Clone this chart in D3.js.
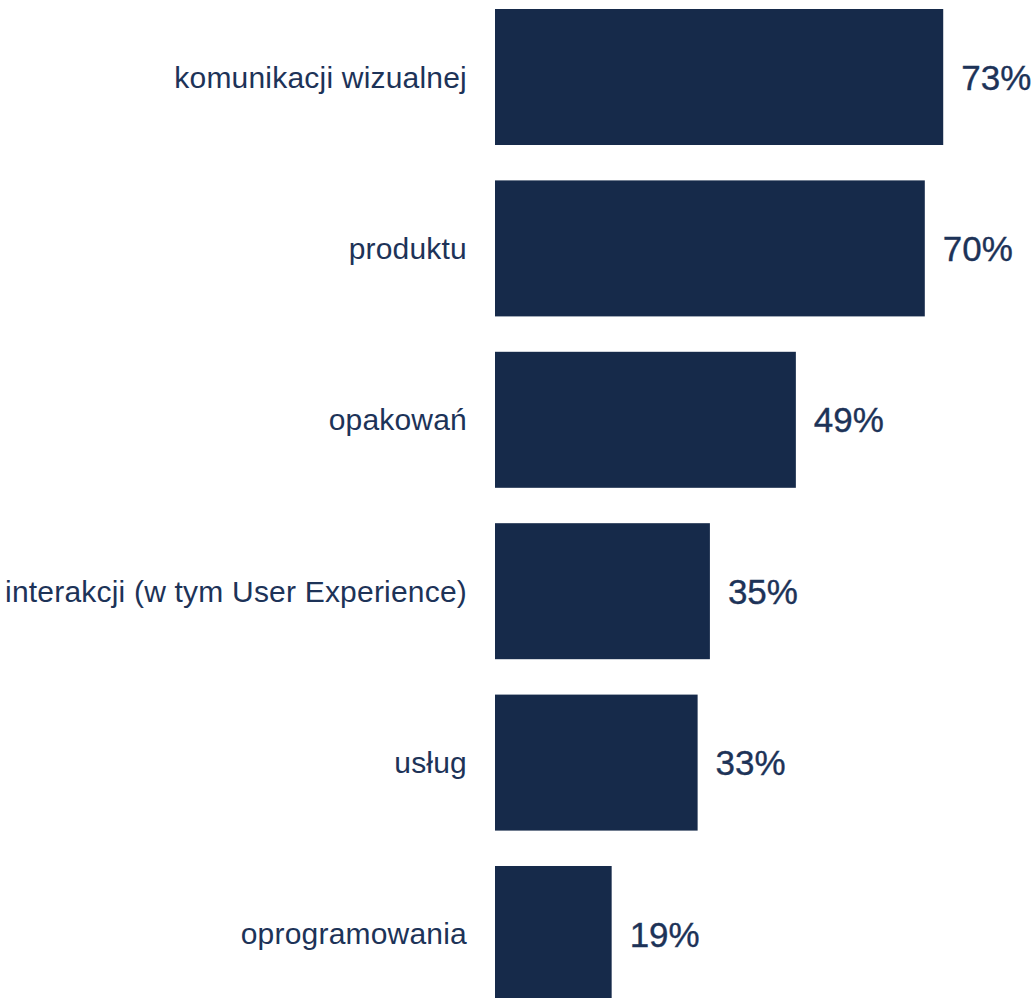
<!DOCTYPE html>
<html>
<head>
<meta charset="utf-8">
<script src="https://cdn.jsdelivr.net/npm/d3@7"></script>
<style>
  html, body { margin: 0; padding: 0; background: #ffffff; }
  svg { display: block; }
</style>
</head>
<body>
<svg id="chart" width="1034" height="998"></svg>
<script>
// Categories (design areas) and share of respondents, in percent
const categories = [
  "komunikacji wizualnej",
  "produktu",
  "opakowań",
  "interakcji (w tym User Experience)",
  "usług",
  "oprogramowania"
];
const values = [73, 70, 49, 35, 33, 19];
const valueLabels = ["73%", "70%", "49%", "35%", "33%", "19%"];

const data = categories.map((c, i) => ({ category: c, value: values[i], label: valueLabels[i] }));

const svg = d3.select("#chart");
const barLeft = 495;
const barColor = "#162a4a";
const textColor = "#1d3358";

const x = d3.scaleLinear().domain([0, 100]).range([barLeft, barLeft + 614]);
const y = d3.scaleBand()
  .domain(categories)
  .range([9, 1002])
  .paddingInner(0.2065)
  .paddingOuter(0);

svg.selectAll("rect.bar")
  .data(data)
  .join("rect")
  .attr("class", "bar")
  .attr("x", x(0))
  .attr("y", d => y(d.category))
  .attr("width", d => x(d.value) - x(0))
  .attr("height", y.bandwidth())
  .attr("fill", barColor);

// Category labels, right-aligned left of the bars
svg.selectAll("text.cat")
  .data(data)
  .join("text")
  .attr("class", "cat")
  .attr("x", barLeft - 28)
  .attr("y", d => y(d.category) + y.bandwidth() / 2)
  .attr("dy", "0.35em")
  .attr("text-anchor", "end")
  .attr("font-family", "'Liberation Sans', Arial, sans-serif")
  .attr("font-size", 30)
  .attr("letter-spacing", 0.2)
  .attr("fill", textColor)
  .text(d => d.category);

// Value labels at the bar ends
svg.selectAll("text.val")
  .data(data)
  .join("text")
  .attr("class", "val")
  .attr("x", d => x(d.value) + 18)
  .attr("y", d => y(d.category) + y.bandwidth() / 2)
  .attr("dy", "0.36em")
  .attr("text-anchor", "start")
  .attr("font-family", "'Liberation Sans', Arial, sans-serif")
  .attr("font-size", 35)
  .attr("fill", textColor)
  .attr("stroke", textColor)
  .attr("stroke-width", 0.35)
  .text(d => d.label);
</script>
</body>
</html>
